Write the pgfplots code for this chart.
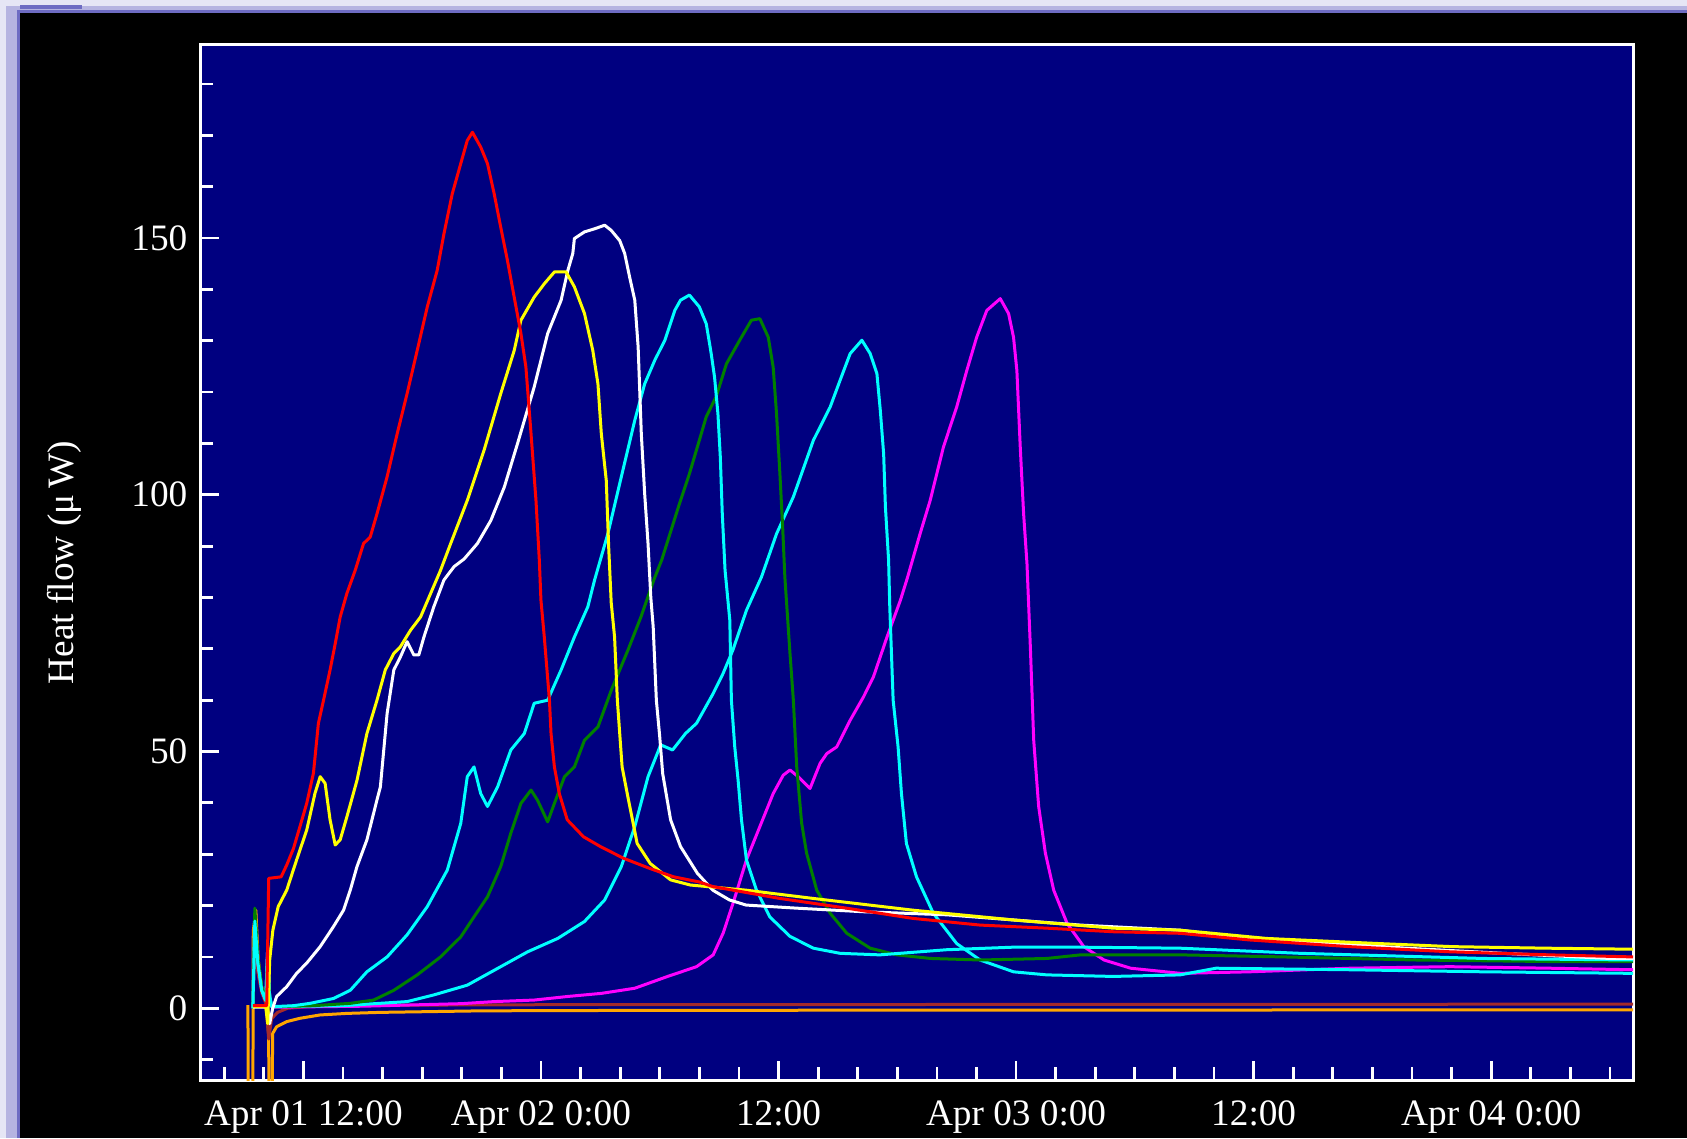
\documentclass[border=0pt]{standalone}
\usepackage{fontspec}
\setmainfont{Liberation Serif}
\usepackage{pgfplots}
\pgfplotsset{compat=1.18}

\definecolor{plotbg}{RGB}{0,0,128}
\definecolor{framelight}{RGB}{230,230,245}
\definecolor{framelav}{RGB}{182,180,225}
\definecolor{framedark}{RGB}{110,108,195}
\definecolor{cred}{RGB}{255,0,0}
\definecolor{cyellow}{RGB}{255,255,0}
\definecolor{ccyan}{RGB}{0,255,255}
\definecolor{cmag}{RGB}{255,0,255}
\definecolor{cgreen}{RGB}{0,128,0}
\definecolor{cbrown}{RGB}{165,42,42}
\definecolor{corange}{RGB}{255,165,0}

\newcommand{\lblfont}{\fontsize{10.6pt}{12pt}\selectfont}

\begin{document}
\begin{tikzpicture}
\useasboundingbox (0,0) rectangle (168.7mm,113.8mm);
% window frame
\fill[framelight] (0,0) rectangle (168.7mm,113.8mm);
\fill[framelav] (0.6mm,0) rectangle (168.7mm,113.2mm);
\fill[framedark] (1.7mm,0) rectangle (168.7mm,112.8mm);
\fill[black] (2.0mm,0) rectangle (168.7mm,112.5mm);
\fill[framedark] (2.0mm,112.9mm) rectangle (8.2mm,113.3mm);

\begin{axis}[
    at={(20mm,5.8mm)}, anchor=south west,
    scale only axis,
    width=143.3mm, height=103.5mm,
    xmin=6.78, xmax=79.16,
    ymin=-13.97, ymax=187.6,
    axis background/.style={fill=plotbg},
    axis line style={white, line width=0.3mm},
    tick align=inside,
    xtick pos=bottom, ytick pos=left,
    tick style={white, line width=0.28mm},
    major tick length=1.9mm, minor tick length=1.3mm,
    xtick={12,24,36,48,60,72},
    xticklabels={Apr 01 12:00, Apr 02 0:00, 12:00, Apr 03 0:00, 12:00, Apr 04 0:00},
    minor xtick={8,10,14,16,18,20,22,26,28,30,32,34,38,40,42,44,46,50,52,54,56,58,62,64,66,68,70,74,76,78},
    ytick={0,50,100,150},
    minor ytick={-10,10,20,30,40,60,70,80,90,110,120,130,140,160,170,180},
    /pgf/number format/assume math mode=true,
    xticklabel style={white, font=\lblfont, anchor=north, inner sep=0pt, yshift=-2mm},
    yticklabel style={white, font=\lblfont, anchor=east, inner sep=0pt, xshift=-1.2mm},
    every axis y label/.style={at={(axis description cs:-0.0886,0.5)}, rotate=90, anchor=base, white, font=\lblfont},
    ylabel={Heat flow (μ\,W)},
    every axis plot/.append style={line width=0.3mm, line join=round},
]
% orange baseline channel
\addplot[corange] coordinates {
(9.2,0.6) (9.22,-20) (9.45,-20) (9.47,15) (9.6,19.1) (9.72,9.4) (9.89,4.2) (10.11,1.6) (10.23,-1.0) (10.28,-20) (10.42,-20) (10.45,-4.9) (10.65,-3.6) (11.16,-2.6) (11.83,-1.95) (12.85,-1.3) (14.2,-1.0) (15.89,-0.8) (21,-0.5) (30,-0.4) (79.16,-0.3)
};
% brown baseline channel
\addplot[cbrown] coordinates {
(9.45,0) (9.55,15) (9.7,7) (9.9,3) (10.1,1) (10.25,-6) (10.4,-2) (10.7,-0.8) (11.2,0) (12.5,0.4) (16,0.6) (25,0.7) (79.16,0.8)
};
% magenta
\addplot[cmag] coordinates {
(9.45,0) (9.55,17) (9.7,9) (9.9,3.5) (10.1,1.5) (10.2,12) (10.3,2) (10.4,0.2) (15,0.4) (20,0.9) (21.64,1.3) (23.66,1.6) (25.36,2.3) (27.05,2.9) (28.74,3.9) (30.4,6.2) (31.86,8.1) (32.7,10.4) (33.2,14.6) (33.7,20.4) (34.38,28.9) (35.06,35.4) (35.73,41.8) (36.24,45.4) (36.58,46.4) (37.0,45.1) (37.59,42.8) (38.1,47.7) (38.44,49.6) (38.94,50.9) (39.62,56.1) (40.3,60.7) (40.8,64.6) (41.48,72.3) (42.16,79.5) (42.5,83.7) (43.15,92.4) (43.66,98.9) (44.33,109.3) (45.0,117.1) (45.51,124.2) (46.01,130.7) (46.52,135.9) (47.2,138.2) (47.62,135.3) (47.87,130.7) (48.04,124.2) (48.21,109.3) (48.38,96.3) (48.55,86.6) (48.72,70.4) (48.89,52.2) (49.14,39.3) (49.48,30.2) (49.9,23.0) (50.58,16.5) (51.42,12.0) (52.44,9.4) (53.79,7.8) (56.3,6.8) (59.8,7.1) (64.85,7.8) (69.9,8.1) (74.95,7.8) (79.16,7.5)
};
% second cyan
\addplot[ccyan] coordinates {
(9.45,0) (9.55,17) (9.7,9) (9.9,3.5) (10.1,1.5) (10.2,11) (10.3,2) (10.4,0.3) (14,0.5) (17.24,1.3) (18.59,2.6) (20.28,4.5) (21.97,8.1) (23.33,11.0) (24.85,13.6) (26.2,16.9) (27.22,21.1) (28.06,27.6) (28.74,35.4) (29.41,45.1) (30.05,51.3) (30.65,50.3) (31.3,53.5) (31.86,55.5) (32.7,61.3) (33.2,65.2) (33.7,69.8) (34.38,77.5) (35.14,84.0) (35.9,92.4) (36.75,99.6) (37.76,110.6) (38.61,117.1) (39.11,122.3) (39.62,127.5) (40.21,130.1) (40.63,127.5) (40.97,123.6) (41.14,116.5) (41.31,108.0) (41.4,97.6) (41.56,87.3) (41.62,78.2) (41.79,60.0) (42.04,50.9) (42.21,41.8) (42.46,32.1) (42.97,25.6) (43.82,18.5) (45.0,12.6) (46.18,9.4) (47.87,7.1) (49.56,6.5) (52.9,6.2) (56.28,6.5) (58.1,7.8) (64.85,7.5) (71.6,7.1) (79.16,6.8)
};
% green
\addplot[cgreen] coordinates {
(9.45,0) (9.55,19.5) (9.7,10) (9.9,4) (10.1,2) (10.2,10) (10.3,2) (10.4,0.3) (12.5,0.5) (14.37,0.96) (15.55,1.6) (16.57,3.5) (17.75,6.5) (18.93,10.0) (19.95,13.9) (20.62,17.8) (21.3,21.7) (21.97,27.6) (22.48,34.1) (22.99,39.9) (23.5,42.5) (23.83,40.5) (24.34,36.3) (24.68,39.9) (25.19,45.1) (25.69,47.0) (26.2,52.2) (26.88,54.8) (27.55,61.9) (28.4,69.8) (29.05,76.2) (29.7,83.4) (30.1,87.3) (31.0,98.3) (31.5,104.1) (32.0,110.6) (32.35,115.2) (32.85,119.1) (33.37,125.5) (34.04,130.1) (34.63,134.0) (35.06,134.3) (35.48,130.7) (35.73,124.9) (35.9,115.8) (36.07,104.1) (36.21,93.7) (36.32,84.0) (36.58,69.1) (36.75,60.0) (36.92,47.0) (37.17,36.0) (37.42,30.2) (37.93,23.0) (38.61,18.5) (39.45,14.6) (40.63,11.7) (41.99,10.4) (43.68,9.7) (46.2,9.4) (49.56,9.7) (51.25,10.4) (56.3,10.4) (61.5,10.0) (68.2,9.4) (75.0,9.1) (79.16,9.1)
};
% first cyan
\addplot[ccyan] coordinates {
(9.45,0) (9.55,17) (9.7,9) (9.9,3.5) (10.1,1.5) (10.2,12) (10.28,3) (10.4,0.3) (11.5,0.5) (12.34,0.96) (13.52,1.9) (14.37,3.5) (15.21,7.1) (16.23,10.0) (17.24,14.3) (18.26,19.8) (19.27,26.9) (19.95,36.0) (20.28,45.1) (20.62,47.0) (20.96,41.8) (21.3,39.3) (21.81,43.1) (22.48,50.3) (23.16,53.5) (23.66,59.4) (24.34,60.0) (25.02,65.9) (25.69,72.3) (26.37,78.2) (26.71,83.4) (27.38,92.4) (28.06,103.5) (28.74,114.5) (29.24,121.6) (29.75,126.2) (30.26,130.1) (30.76,135.9) (31.05,137.9) (31.5,138.9) (32.0,136.6) (32.35,133.3) (32.6,127.5) (32.77,122.9) (32.94,115.8) (33.06,107.4) (33.16,96.3) (33.3,85.3) (33.54,75.6) (33.62,60.0) (33.79,50.9) (33.96,44.4) (34.13,36.7) (34.38,28.9) (34.89,23.0) (35.56,17.8) (36.58,14.0) (37.76,11.7) (39.11,10.7) (41.11,10.4) (44.49,11.4) (47.87,11.9) (51.21,11.9) (56.28,11.7) (62.35,10.7) (71.6,9.7) (79.16,9.4)
};
% white
\addplot[white] coordinates {
(9.45,0.2) (10.17,0.2) (10.3,-3) (10.45,0.0) (10.65,2.3) (11.16,4.2) (11.66,6.8) (12.17,8.8) (12.85,12.0) (13.52,15.9) (14.03,19.1) (14.37,23.0) (14.71,27.6) (15.21,32.8) (15.72,40.6) (15.89,43.1) (16.23,57.4) (16.57,65.9) (16.9,68.4) (17.24,71.4) (17.58,68.8) (17.83,68.8) (18.09,72.3) (18.59,78.2) (19.1,83.4) (19.61,86.0) (20.12,87.5) (20.79,90.5) (21.47,95.0) (22.15,101.5) (22.82,110.0) (23.66,121.0) (24.34,131.4) (25.02,137.9) (25.36,143.7) (25.61,147.0) (25.69,149.9) (26.2,151.2) (26.71,151.8) (27.22,152.5) (27.55,151.5) (27.98,149.5) (28.23,147.0) (28.48,142.4) (28.74,137.9) (28.91,128.8) (29.07,111.9) (29.24,100.2) (29.41,90.5) (29.55,80) (29.67,74.3) (29.83,60.0) (30.0,52.9) (30.15,45.7) (30.55,36.7) (31.05,31.5) (31.9,26.3) (32.68,23.0) (33.52,21.1) (34.36,20.1) (36.9,19.5) (40.28,18.8) (44.5,18.2) (47.87,17.2) (51.25,16.2) (56.3,15.2) (58.63,14.0) (62.85,13.0) (67.7,11.7) (72.6,10.7) (78.0,9.7) (79.16,9.7)
};
% yellow
\addplot[cyellow] coordinates {
(9.45,0.3) (10.1,0.3) (10.2,-3) (10.3,9.4) (10.46,15.2) (10.73,19.8) (11.16,23.0) (11.66,28.9) (12.17,34.7) (12.59,41.9) (12.85,45.1) (13.1,43.8) (13.35,36.7) (13.61,31.8) (13.86,32.8) (14.2,37.3) (14.71,44.4) (15.21,53.5) (15.72,60.0) (16.14,65.9) (16.57,69.1) (16.9,70.4) (17.41,73.6) (17.92,76.2) (18.43,80.8) (18.93,85.3) (19.44,90.5) (20.28,98.9) (21.13,108.7) (21.97,119.7) (22.65,128.1) (22.99,134.0) (23.66,138.5) (24.17,141.1) (24.68,143.4) (25.27,143.4) (25.69,140.5) (26.2,135.3) (26.62,128.1) (26.88,121.6) (27.05,111.9) (27.3,102.8) (27.42,90.0) (27.55,79.0) (27.72,72.3) (27.86,60.0) (28.1,47.0) (28.36,41.8) (28.86,32.1) (29.52,28.2) (30.55,25.0) (31.55,24.0) (34.36,23.0) (37.73,21.4) (42.8,19.1) (47.85,17.2) (52.9,15.6) (56.3,15.2) (60.65,13.6) (66.35,12.6) (70.05,12.0) (74.8,11.7) (79.16,11.5)
};
% red
\addplot[cred] coordinates {
(9.45,0.5) (10.15,0.5) (10.25,25.3) (10.88,25.6) (11.16,27.9) (11.5,31.1) (11.83,35.4) (12.17,39.9) (12.51,45.8) (12.76,55.5) (13.02,60.0) (13.35,65.9) (13.61,71.0) (13.86,76.2) (14.2,80.8) (14.62,85.3) (15.04,90.5) (15.38,91.8) (15.72,96.3) (16.23,103.5) (16.74,111.9) (17.24,119.7) (17.75,128.1) (18.26,136.6) (18.76,143.7) (19.1,150.8) (19.52,158.6) (19.95,164.5) (20.28,169.0) (20.54,170.6) (20.96,167.7) (21.3,164.5) (21.64,158.6) (21.97,152.1) (22.31,145.6) (22.65,138.5) (22.99,131.4) (23.24,124.9) (23.5,111.9) (23.75,98.9) (23.92,87.2) (24.0,79.5) (24.17,72.3) (24.43,60.0) (24.51,53.5) (24.68,47.0) (24.93,41.8) (25.33,36.7) (26.15,33.4) (27.0,31.5) (28.18,29.2) (29.52,27.2) (30.7,25.6) (32.0,24.6) (32.68,23.7) (36.05,21.4) (39.43,19.5) (42.8,17.5) (46.18,16.2) (49.56,15.6) (52.92,14.9) (56.3,14.6) (59.8,13.3) (64.85,12.0) (69.9,11.0) (74.95,10.4) (79.16,10.0)
};
\end{axis}
\end{tikzpicture}
\end{document}
